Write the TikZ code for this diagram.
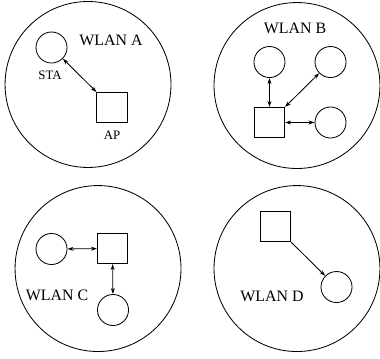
\documentclass[tikz,border=0pt]{standalone}
\usepackage{fontspec}
\setmainfont{Liberation Serif}
\usetikzlibrary{arrows.meta,positioning}

\begin{document}
\begin{tikzpicture}[>={Stealth[length=4pt,width=2.6pt]}, line width=0.55pt,
    cell/.style={draw, circle, minimum size=3.85cm, inner sep=0pt},
    sta/.style={draw, circle, minimum size=0.72cm, inner sep=0pt},
    ap/.style={draw, rectangle, minimum size=0.70cm, inner sep=0pt},
    wlan/.style={font=\fontsize{10.5}{12}\selectfont},
    tag/.style={font=\fontsize{8.5}{10}\selectfont}]
  \useasboundingbox (0,0) rectangle (8.816,8.306);

  % Coverage areas
  \node[cell] (cellA) at (2.042, 6.346) {};
  \node[cell] (cellB) at (6.890, 6.322) {};
  \node[cell] (cellC) at (2.274, 2.076) {};
  \node[cell] (cellD) at (6.890, 2.076) {};

  % WLAN A
  \node[wlan] (nameA) at (2.575, 7.378) {WLAN A};
  \node[sta] (staA) at (1.195, 7.204) {};
  \node[ap] (apA) at (2.598, 5.812) {};
  \node[tag, below=1.5pt of staA, xshift=-1pt] (labSTA) {STA};
  \node[tag, below=1.5pt of apA] (labAP) {AP};
  \draw[<->] (staA) -- (apA.north west);

  % WLAN B
  \node[wlan] (nameB) at (6.844, 7.656) {WLAN B};
  \node[ap] (apB) at (6.252, 5.464) {};
  \node[sta] (staB1) at (6.252, 6.867) {};
  \node[sta] (staB2) at (7.668, 6.867) {};
  \node[sta] (staB3) at (7.668, 5.464) {};
  \draw[<->] (apB) -- (staB1);
  \draw[<->] (apB.north east) -- (staB2);
  \draw[<->] (apB) -- (staB3);

  % WLAN C
  \node[wlan] (nameC) at (1.322, 1.462) {WLAN C};
  \node[ap] (apC) at (2.610, 2.540) {};
  \node[sta] (staC1) at (1.195, 2.529) {};
  \node[sta] (staC2) at (2.622, 1.114) {};
  \draw[<->] (staC1) -- (apC);
  \draw[<->] (apC) -- (staC2);

  % WLAN D (one-way link)
  \node[wlan] (nameD) at (6.310, 1.438) {WLAN D};
  \node[ap] (apD) at (6.392, 3.051) {};
  \node[sta] (staD) at (7.807, 1.647) {};
  \draw[->] (apD.south east) -- (staD);

\end{tikzpicture}
\end{document}
